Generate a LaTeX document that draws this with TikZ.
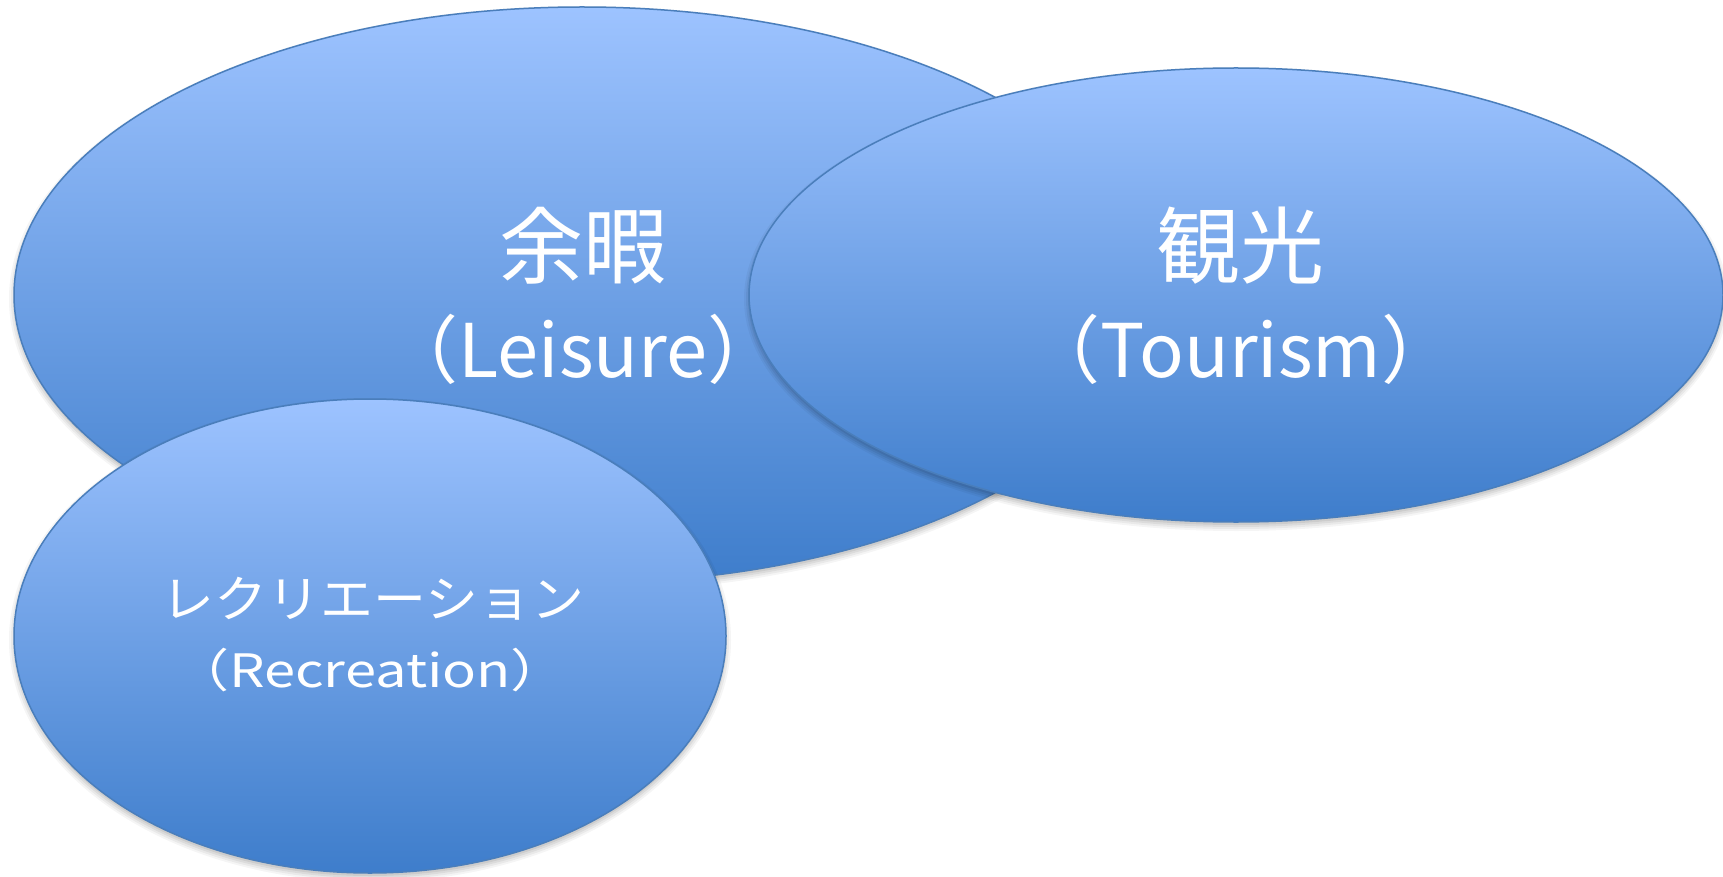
\documentclass[tikz,border=0pt]{standalone}
\usepackage{fontspec}
\setmainfont{Noto Sans CJK JP}
\usetikzlibrary{shapes.geometric}
\definecolor{eltop}{RGB}{157,195,255}
\definecolor{elbot}{RGB}{62,125,203}
\definecolor{eledge}{RGB}{74,126,187}
\tikzset{
  bubble/.style={ellipse, draw=eledge, line width=1.5pt, top color=eltop, bottom color=elbot, inner sep=0pt},
  shadowlayer/.style={fill=black, draw=none, opacity=#1},
  txt/.style={text=white, inner sep=0pt, anchor=base},
}
\begin{document}
\begin{tikzpicture}[x=1pt,y=-1pt]
\useasboundingbox (0,0) rectangle (1723,877);
% Leisure
\foreach \d/\o in {5/0.04,3/0.05,1/0.06,-1/0.07}{
  \fill[shadowlayer=\o] (582,299) ellipse [x radius=568+\d, y radius=288+\d];}
\node[bubble, minimum width=1136pt, minimum height=576pt] (leisure) at (582,295) {};
% Tourism
\foreach \d/\o in {5/0.04,3/0.05,1/0.06,-1/0.07}{
  \fill[shadowlayer=\o] (1236,299) ellipse [x radius=487+\d, y radius=227+\d];}
\node[bubble, minimum width=974pt, minimum height=454pt] (tourism) at (1236,295) {};
% Recreation
\foreach \d/\o in {5/0.04,3/0.05,1/0.06,-1/0.07}{
  \fill[shadowlayer=\o] (370,640) ellipse [x radius=356+\d, y radius=237+\d];}
\node[bubble, minimum width=712pt, minimum height=474pt] (recreation) at (370,636) {};
% texts
\node[txt, font=\fontsize{84}{84}\selectfont] (l1) at (583,277) {余暇};
\node[txt, font=\fontsize{74}{74}\selectfont] (l2) at (583,377) {（Leisure）};
\node[txt, font=\fontsize{84}{84}\selectfont] (t1) at (1240,277) {観光};
\node[txt, font=\fontsize{74}{74}\selectfont] (t2) at (1241,377) {（Tourism）};
\node[txt, font=\fontsize{50}{50}\selectfont, xscale=1.06, transform shape] (r1) at (373,617) {レクリエーション};
\node[txt, font=\fontsize{46}{46}\selectfont, xscale=1.22, transform shape] (r2) at (370,687) {（Recreation）};
\end{tikzpicture}
\end{document}
